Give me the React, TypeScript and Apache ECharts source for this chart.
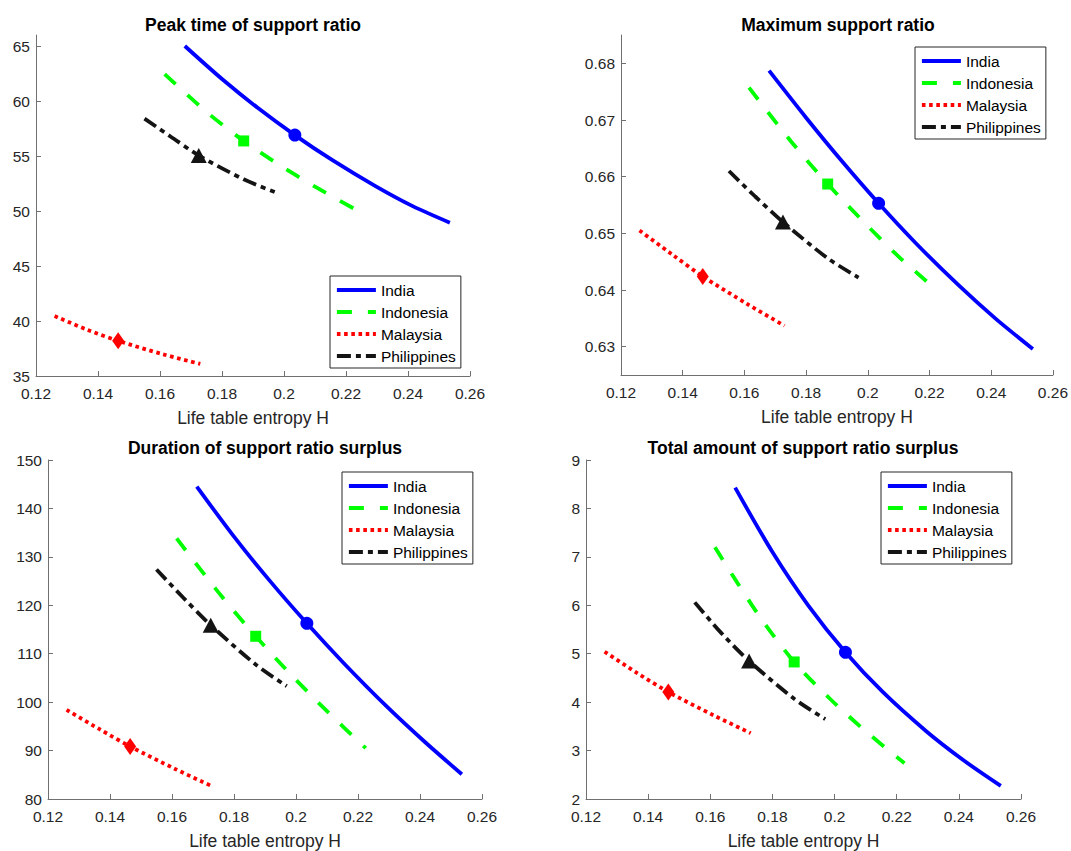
import React, { useEffect, useRef } from "react";
import * as echarts from "echarts";

// ---------- data ----------
const countries = ["India", "Indonesia", "Malaysia", "Philippines"];

// life table entropy H (x) sampled along each country's curve
const xIndia = [0.168, 0.18, 0.1915, 0.2035, 0.2155, 0.2295, 0.2415, 0.2535];
const xIndonesia = [0.1615, 0.175, 0.187, 0.1985, 0.21, 0.2225];
const xMalaysia = [0.126, 0.1365, 0.1465, 0.161, 0.173];
const xPhilippines = [0.155, 0.1635, 0.1725, 0.187, 0.197];
// index of the highlighted (marker) point in each country's x list
const markerIndex = [3, 2, 2, 2];

// Peak time of support ratio
const peakIndia = [65.0, 62.0, 59.38, 56.9, 54.64, 52.26, 50.44, 48.94];
const peakIndonesia = [62.45, 59.01, 56.37, 54.19, 52.21, 50.23];
const peakMalaysia = [40.45, 39.21, 38.2, 36.97, 36.1];
const peakPhilippines = [58.4, 56.75, 55.05, 52.88, 51.72];

// Maximum support ratio
const maxIndia = [0.6787, 0.6704, 0.6628, 0.6553, 0.6483, 0.6408, 0.6349, 0.6296];
const maxIndonesia = [0.6757, 0.6663, 0.6587, 0.6521, 0.6459, 0.6399];
const maxMalaysia = [0.6505, 0.6463, 0.6424, 0.6375, 0.6337];
const maxPhilippines = [0.661, 0.6565, 0.652, 0.6456, 0.6422];

// Duration of support ratio surplus
const durIndia = [144.5, 134.18, 125.09, 116.27, 107.99, 98.96, 91.82, 85.1];
const durIndonesia = [133.8, 122.66, 113.6, 105.6, 98.13, 90.5];
const durMalaysia = [98.4, 94.46, 90.85, 86.21, 82.6];
const durPhilippines = [127.4, 121.66, 115.9, 107.78, 103.3];

// Total amount of support ratio surplus
const totIndia = [8.43, 7.1, 6.0, 5.03, 4.21, 3.4, 2.8, 2.27];
const totIndonesia = [7.2, 5.85, 4.83, 4.07, 3.4, 2.74];
const totMalaysia = [5.04, 4.6, 4.21, 3.73, 3.36];
const totPhilippines = [6.06, 5.43, 4.85, 4.07, 3.65];

const panelTitles = [
  "Peak time of support ratio",
  "Maximum support ratio",
  "Duration of support ratio surplus",
  "Total amount of support ratio surplus",
];
const xAxisName = "Life table entropy H";

// tick labels
const xTicks = [0.12, 0.14, 0.16, 0.18, 0.2, 0.22, 0.24, 0.26];
const peakTicks = [35, 40, 45, 50, 55, 60, 65];
const maxTicks = [0.63, 0.64, 0.65, 0.66, 0.67, 0.68];
const durTicks = [80, 90, 100, 110, 120, 130, 140, 150];
const totTicks = [2, 3, 4, 5, 6, 7, 8, 9];

// ---------- assembly ----------
const xValues = [xIndia, xIndonesia, xMalaysia, xPhilippines];
const panelValues = [
  [peakIndia, peakIndonesia, peakMalaysia, peakPhilippines],
  [maxIndia, maxIndonesia, maxMalaysia, maxPhilippines],
  [durIndia, durIndonesia, durMalaysia, durPhilippines],
  [totIndia, totIndonesia, totMalaysia, totPhilippines],
];
const panelTicks = [peakTicks, maxTicks, durTicks, totTicks];
const panelRanges = [
  [35, 66],
  [0.625, 0.685],
  [80, 150],
  [2, 9],
];

const FONT = "'Liberation Sans', Arial, Helvetica, sans-serif";
const colors = ["#0000ff", "#00ff00", "#ff0000", "#141414"];
const dashes: any[] = ["solid", [15, 16], [3.6, 3.6], [14, 5, 5, 5]];
const symbols = ["circle", "rect", "diamond", "triangle"];
const symbolSizes: any[] = [13, 11, [12, 17], [16, 15]];
const LW = 3.8;

const grids = [
  { left: 36, top: 35, width: 434, height: 341 },
  { left: 621, top: 35, width: 434, height: 340 },
  { left: 48, top: 460, width: 434, height: 339 },
  { left: 586, top: 460, width: 435, height: 339 },
];
const titlePos = [
  { x: 253, y: 16 },
  { x: 838, y: 16 },
  { x: 265, y: 439 },
  { x: 803, y: 439 },
];
const legendPos = [
  { left: 330, top: 276 },
  { left: 915, top: 47 },
  { left: 342, top: 472 },
  { left: 881, top: 472 },
];

const fmt = (v: number) => String(Number(Number(v).toFixed(4)));

function buildOption() {
  const series: any[] = [];
  panelValues.forEach((vals, p) => {
    vals.forEach((ys, c) => {
      const xs = xValues[c];
      series.push({
        type: "line",
        name: countries[c],
        xAxisIndex: p,
        yAxisIndex: p,
        data: xs.map((x, i) => [x, ys[i]]),
        symbol: "none",
        showSymbol: false,
        smooth: 0.3,
        lineStyle: { color: colors[c], width: LW, type: dashes[c], cap: "butt" },
        itemStyle: { color: colors[c] },
        z: 2,
      });
    });
    vals.forEach((ys, c) => {
      const k = markerIndex[c];
      series.push({
        type: "scatter",
        name: "marker-" + countries[c],
        xAxisIndex: p,
        yAxisIndex: p,
        data: [[xValues[c][k], ys[k]]],
        symbol: symbols[c],
        symbolSize: symbolSizes[c],
        itemStyle: { color: colors[c], opacity: 1 },
        z: 3,
        silent: true,
      });
    });
  });

  return {
    animation: false,
    backgroundColor: "#ffffff",
    textStyle: { fontFamily: FONT },
    title: panelTitles.map((t, i) => ({
      text: t,
      left: titlePos[i].x,
      top: titlePos[i].y,
      textAlign: "center",
      padding: 0,
      textStyle: { fontSize: 17.5, fontWeight: "bold", color: "#000", fontFamily: FONT },
    })),
    legend: legendPos.map((lp) => ({
      data: countries,
      orient: "vertical",
      left: lp.left,
      top: lp.top,
      padding: [6, 5, 4, 5],
      itemWidth: 39,
      itemHeight: 14,
      itemGap: 6,
      icon: "inherit",
      selectedMode: false,
      itemStyle: { opacity: 0 },
      lineStyle: { width: "inherit" },
      borderColor: "#262626",
      borderWidth: 1,
      backgroundColor: "#ffffff",
      textStyle: { fontSize: 15.5, color: "#000", fontFamily: FONT, lineHeight: 15 },
    })),
    grid: grids.map((g) => ({ ...g, containLabel: false })),
    xAxis: grids.map((_, i) => ({
      type: "value",
      gridIndex: i,
      min: 0.12,
      max: 0.26,
      name: xAxisName,
      nameLocation: "middle",
      nameGap: 33,
      nameTextStyle: { fontSize: 17.5, color: "#262626", fontFamily: FONT },
      axisLine: { onZero: false, lineStyle: { color: "#707070", width: 1 } },
      axisTick: { inside: true, length: 5, customValues: xTicks, lineStyle: { color: "#707070" } },
      axisLabel: { customValues: xTicks, margin: 9, fontSize: 15.5, color: "#262626", formatter: fmt },
      splitLine: { show: false },
    })),
    yAxis: grids.map((_, i) => ({
      type: "value",
      gridIndex: i,
      min: panelRanges[i][0],
      max: panelRanges[i][1],
      axisLine: { onZero: false, lineStyle: { color: "#707070", width: 1 } },
      axisTick: { inside: true, length: 5, customValues: panelTicks[i], lineStyle: { color: "#707070" } },
      axisLabel: { customValues: panelTicks[i], margin: 6, fontSize: 15.5, color: "#262626", formatter: fmt },
      splitLine: { show: false },
    })),
    series,
  };
}

export default function App() {
  const ref = useRef<HTMLDivElement>(null);
  useEffect(() => {
    if (!ref.current) return;
    const chart = echarts.init(ref.current, undefined, { renderer: "svg" });
    chart.setOption(buildOption() as any);
    return () => chart.dispose();
  }, []);
  return (
    <div
      ref={ref}
      style={{ position: "fixed", left: 0, top: 0, width: 1071, height: 851, background: "#fff" }}
    />
  );
}
